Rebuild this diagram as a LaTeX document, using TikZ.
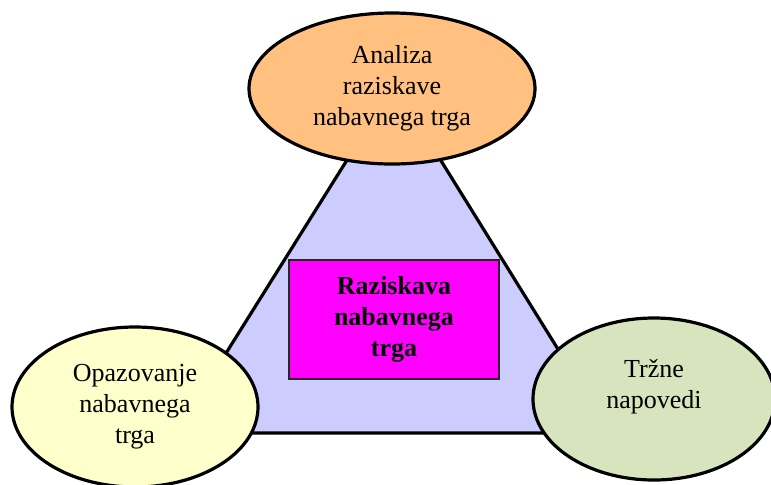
\documentclass[tikz,border=0pt]{standalone}
\usepackage{fontspec}
\setmainfont{Liberation Serif}
\usetikzlibrary{shapes.geometric}

\definecolor{topfill}{RGB}{255,192,128}
\definecolor{leftfill}{RGB}{255,255,204}
\definecolor{rightfill}{RGB}{215,228,189}
\definecolor{trifill}{RGB}{204,204,255}
\definecolor{corefill}{RGB}{255,0,255}

\begin{document}
\begin{tikzpicture}[x=0.5pt,y=-0.5pt,
  oval/.style={ellipse,draw,line width=1.6pt,align=center,inner sep=0pt,font=\fontsize{13}{15.5}\selectfont},
  core/.style={draw=black!85,line width=0.6pt,fill=corefill,align=center,inner sep=0pt,
    minimum width=105pt,minimum height=59.5pt,font=\fontsize{13}{15.5}\selectfont\bfseries}]
\useasboundingbox (0,0) rectangle (771,484);
\coordinate (apex) at (394,85);
\coordinate (bl) at (176,433);
\coordinate (br) at (610,433);
\draw[line width=1.6pt,fill=trifill,line join=miter] (apex) -- (br) -- (bl) -- cycle;
\node[oval,fill=topfill,minimum width=143pt,minimum height=75.5pt] (analiza) at (392,88.5) {Analiza\\raziskave\\nabavnega trga};
\node[oval,fill=leftfill,minimum width=123pt,minimum height=80pt] (opaz) at (135,407) {Opazovanje\\nabavnega\\trga};
\node[oval,fill=rightfill,minimum width=121pt,minimum height=81pt] (napov) at (654,399) {Tržne\\napovedi\\\mbox{}};
\node[core] (razisk) at (394,319.5) {Raziskava\\nabavnega\\trga};
\end{tikzpicture}
\end{document}
